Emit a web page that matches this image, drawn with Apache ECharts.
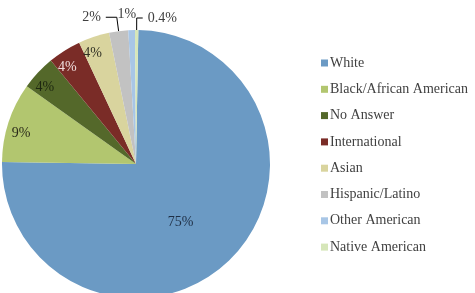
<!DOCTYPE html>
<html lang="en">
<head>
    <meta charset="UTF-8">
    <script src="https://cdn.jsdelivr.net/npm/echarts@6/dist/echarts.min.js"></script>
    <title>Ethnicity Pie</title>
    <style>
        html, body { margin: 0; padding: 0; background: #ffffff; }
        #chart { width: 475px; height: 293px; }
    </style>
</head>
<body>
    <div id="chart"></div>
    <script>
        // data
        var categories = ['White', 'Black/African American', 'No Answer', 'International',
            'Asian', 'Hispanic/Latino', 'Other American', 'Native American'];
        var shares = [75, 9.6, 4.2, 4.0, 3.75, 2.3, 0.8, 0.4];
        var labels = ['75%', '9%', '4%', '4%', '4%', '2%', '1%', '0.4%'];
        var colors = ['#6b9ac4', '#b2c66f', '#54682a', '#7a2c27', '#d9d49e', '#c2c2c2', '#a8c6e6', '#d6e6b9'];
        var labelColors = ['#1f2f45', '#2b2b1a', '#1d2710', '#f0dddc', '#333326', '#404040', '#404040', '#404040'];

        var font = '"Liberation Serif", "DejaVu Serif", serif';
        var chart = echarts.init(document.getElementById('chart'));

        // leader line lengths for the three thin slices
        var lineLen = { 5: [14, 11], 6: [14, 0], 7: [12, 6] };

        // main pie: big slice label in the middle, small ones outside with leader lines
        var mainData = categories.map(function (name, i) {
            var item = { name: name, value: shares[i], itemStyle: { color: colors[i] } };
            if (i === 0) {
                item.label = { show: true, position: 'inside', color: labelColors[i] };
            } else if (lineLen[i]) {
                item.label = { show: true, position: 'outside', color: labelColors[i] };
                item.labelLine = { show: i !== 6, length: lineLen[i][0], length2: lineLen[i][1] };
            } else {
                item.label = { show: false };
            }
            return item;
        });

        // transparent ring on top, only to put the mid-size labels near the rim
        var ringData = categories.map(function (name, i) {
            return {
                name: name, value: shares[i],
                itemStyle: { color: 'rgba(0,0,0,0)' },
                label: { show: i >= 1 && i <= 4, color: labelColors[i] }
            };
        });

        // small nudges so the labels sit where the original has them
        var nudge = { 0: [-4, 8], 6: [10, -2] };

        chart.setOption({
            animation: false,
            textStyle: { fontFamily: font },
            legend: {
                orient: 'vertical',
                left: 316,
                top: 51,
                itemWidth: 7,
                itemHeight: 7,
                itemGap: 12.3,
                icon: 'rect',
                selectedMode: false,
                data: categories,
                textStyle: { fontFamily: font, fontSize: 14, color: '#404040', padding: [0, 0, 0, -3] }
            },
            series: [
                {
                    type: 'pie',
                    center: [136, 164],
                    radius: [0, 134],
                    startAngle: 89,
                    clockwise: true,
                    avoidLabelOverlap: false,
                    data: mainData,
                    label: {
                        fontFamily: font, fontSize: 14,
                        formatter: function (p) { return labels[p.dataIndex]; }
                    },
                    labelLine: { lineStyle: { color: '#000000', width: 1 } },
                    labelLayout: function (p) {
                        var d = nudge[p.dataIndex] || [0, 0];
                        return { hideOverlap: false, dx: d[0], dy: d[1] };
                    },
                    emphasis: { disabled: true }
                },
                {
                    type: 'pie',
                    center: [136, 164],
                    radius: [98, 134],
                    startAngle: 92,
                    clockwise: true,
                    silent: true,
                    data: ringData,
                    label: {
                        position: 'inside',
                        fontFamily: font, fontSize: 14,
                        formatter: function (p) { return labels[p.dataIndex]; }
                    },
                    labelLine: { show: false },
                    emphasis: { disabled: true }
                }
            ]
        });
    </script>
</body>
</html>
